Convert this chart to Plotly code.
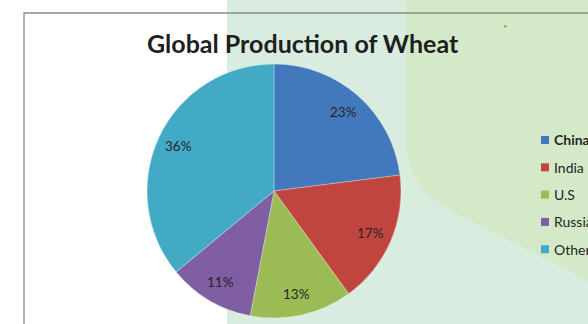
import math
import plotly.graph_objects as go

# Wheat production shares by country
countries = ["China", "India", "U.S", "Russia", "Others"]
shares = [23, 17, 13, 11, 36]
slice_colors = ["#4279bd", "#c0453f", "#9bbb54", "#7f5ea1", "#43aac6"]

W, H = 588, 324
CX, CY, R = 274, 191, 127  # pie centre and radius in pixels


def px(x):
    return x / W


def py(y):
    return 1 - y / H


fig = go.Figure()

fig.add_trace(go.Pie(
    labels=countries,
    values=shares,
    marker=dict(colors=slice_colors, line=dict(color="rgba(255,255,255,0.5)", width=0.6)),
    sort=False,
    direction="clockwise",
    rotation=0,
    textinfo="none",
    showlegend=False,
    domain=dict(x=[px(CX - R), px(CX + R)], y=[py(CY + R), py(CY - R)]),
))

# Percentage labels placed at each slice's mid-angle
total = sum(shares)
annotations = []
start = 0.0
for v in shares:
    mid = (start + v / 2) / total * 2 * math.pi
    start += v
    lr = 0.83 * R
    lx = CX + lr * math.sin(mid)
    ly = CY - lr * math.cos(mid)
    annotations.append(dict(
        x=px(lx), y=py(ly), xref="paper", yref="paper",
        text=f"{round(v / total * 100)}%", showarrow=False,
        font=dict(family="Lato, sans-serif", size=13.5, color="#262626"),
        xanchor="center", yanchor="middle",
    ))

# Title
annotations.append(dict(
    x=px(303), y=py(43), xref="paper", yref="paper",
    text="<b>Global Production of Wheat</b>", showarrow=False,
    font=dict(family="Lato, sans-serif", size=25, color="#1f1f1f"),
    xanchor="center", yanchor="middle",
))

# Legend entries
shapes = []
LEG_X, LEG_Y0, LEG_DY = 541, 140, 27.3

# Background panels
shapes.append(dict(type="rect", xref="paper", yref="paper",
                   x0=px(227), x1=1, y0=0, y1=1,
                   fillcolor="#d8ecdf", line=dict(width=0), layer="below"))
path = (f"M {px(406)},{py(-2)} L {px(406)},{py(140)} "
        f"Q {px(406)},{py(187)} {px(452)},{py(211)} "
        f"L {px(600)},{py(287)} L {px(600)},{py(-2)} Z")
shapes.append(dict(type="path", xref="paper", yref="paper", path=path,
                   fillcolor="#d3e9c8", line=dict(width=0), layer="below"))
shapes.append(dict(type="rect", xref="paper", yref="paper",
                   x0=px(504), x1=px(506.5), y0=py(27.5), y1=py(25),
                   fillcolor="#8fbc4f", line=dict(width=0), layer="below"))
# Chart frame
shapes.append(dict(type="rect", xref="paper", yref="paper",
                   x0=px(24), x1=px(640), y0=py(360), y1=py(13),
                   fillcolor="rgba(0,0,0,0)", line=dict(color="#8c8c8c", width=1.3),
                   layer="below"))

for i, (name, col) in enumerate(zip(countries, slice_colors)):
    yc = LEG_Y0 + i * LEG_DY
    shapes.append(dict(type="rect", xref="paper", yref="paper",
                       x0=px(LEG_X), x1=px(LEG_X + 8), y0=py(yc + 4), y1=py(yc - 4),
                       fillcolor=col, line=dict(width=0), layer="above"))
    label = f"<b>{name}</b>" if i == 0 else name
    annotations.append(dict(
        x=px(LEG_X + 11), y=py(yc), xref="paper", yref="paper",
        text=label, showarrow=False,
        font=dict(family="Lato, sans-serif", size=14, color="#262626"),
        xanchor="left", yanchor="middle",
    ))

fig.update_layout(
    width=W, height=H,
    margin=dict(l=0, r=0, t=0, b=0, autoexpand=False),
    paper_bgcolor="white",
    plot_bgcolor="white",
    showlegend=False,
    shapes=shapes,
    annotations=annotations,
)

fig.write_html("out.html")
